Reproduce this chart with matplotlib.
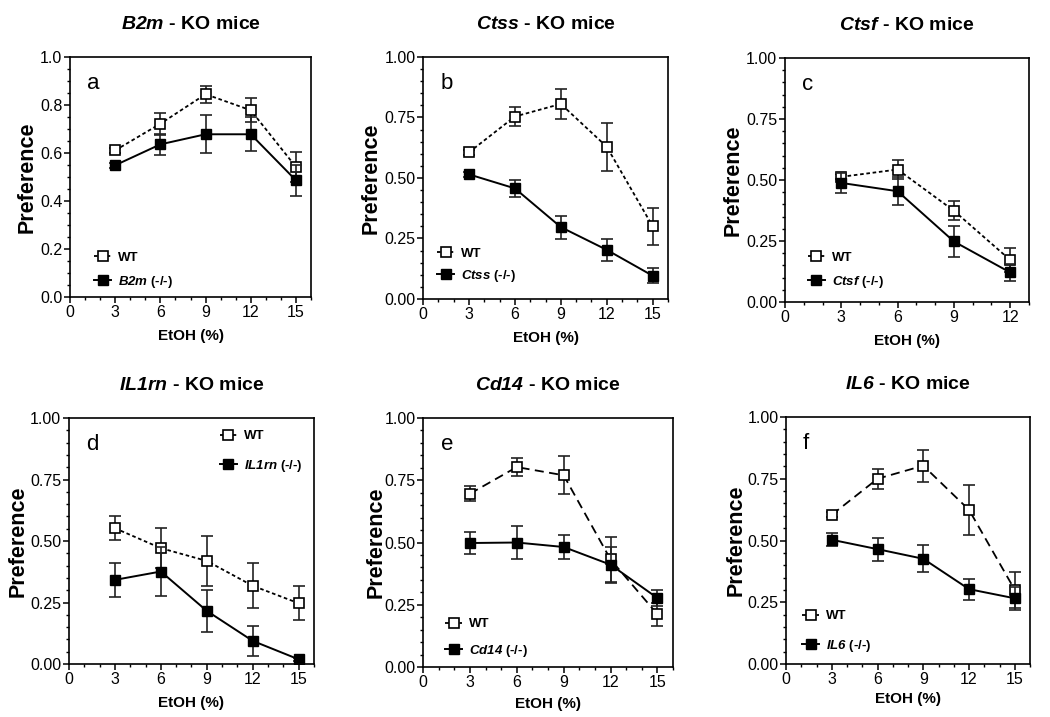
import numpy as np
import matplotlib
matplotlib.use('Agg')
from matplotlib import pyplot as plt
from matplotlib.ticker import MultipleLocator, FormatStrFormatter
from matplotlib.lines import Line2D

plt.rcParams['font.family'] = ['Liberation Sans', 'DejaVu Sans']
# gene names are set in mathtext -> make the roman math font bold italic
plt.rcParams['mathtext.fontset'] = 'custom'
plt.rcParams['mathtext.rm'] = 'Liberation Sans:italic:bold'
plt.rcParams['mathtext.it'] = 'Liberation Sans:italic:bold'

# ---- data ----
etoh = [3, 6, 9, 12, 15]
etoh_c = [3, 6, 9, 12]

genes = ['B2m', 'Ctss', 'Ctsf', 'IL1rn', 'Cd14', 'IL6']
letters = ['a', 'b', 'c', 'd', 'e', 'f']

wt_a = [0.611, 0.722, 0.845, 0.778, 0.542]
wt_a_err = [0.01, 0.045, 0.035, 0.05, 0.062]
ko_a = [0.549, 0.636, 0.678, 0.678, 0.486]
ko_a_err = [0.01, 0.043, 0.08, 0.07, 0.065]

wt_b = [0.606, 0.754, 0.806, 0.629, 0.300]
wt_b_err = [0.01, 0.04, 0.063, 0.10, 0.075]
ko_b = [0.515, 0.457, 0.297, 0.203, 0.096]
ko_b_err = [0.01, 0.035, 0.048, 0.044, 0.03]

wt_c = [0.513, 0.543, 0.374, 0.172]
wt_c_err = [0.01, 0.037, 0.038, 0.05]
ko_c = [0.488, 0.454, 0.248, 0.121]
ko_c_err = [0.04, 0.057, 0.065, 0.035]

wt_d = [0.552, 0.471, 0.419, 0.318, 0.247]
wt_d_err = [0.048, 0.08, 0.10, 0.092, 0.07]
ko_d = [0.342, 0.376, 0.216, 0.094, 0.019]
ko_d_err = [0.07, 0.10, 0.085, 0.06, 0.005]

wt_e = [0.696, 0.803, 0.770, 0.432, 0.212]
wt_e_err = [0.03, 0.035, 0.077, 0.09, 0.046]
ko_e = [0.498, 0.500, 0.482, 0.411, 0.277]
ko_e_err = [0.043, 0.065, 0.05, 0.072, 0.033]

wt_f = [0.604, 0.750, 0.803, 0.624, 0.300]
wt_f_err = [0.01, 0.04, 0.065, 0.10, 0.073]
ko_f = [0.503, 0.465, 0.426, 0.303, 0.266]
ko_f_err = [0.027, 0.047, 0.055, 0.042, 0.047]

panels = [
    (etoh, wt_a, wt_a_err, ko_a, ko_a_err),
    (etoh, wt_b, wt_b_err, ko_b, ko_b_err),
    (etoh_c, wt_c, wt_c_err, ko_c, ko_c_err),
    (etoh, wt_d, wt_d_err, ko_d, ko_d_err),
    (etoh, wt_e, wt_e_err, ko_e, ko_e_err),
    (etoh, wt_f, wt_f_err, ko_f, ko_f_err),
]

# layout / style per panel
boxes = [[0.0667, 0.5858, 0.2295, 0.3347],
         [0.4029, 0.5830, 0.2333, 0.3375],
         [0.7476, 0.5788, 0.2324, 0.3403],
         [0.0657, 0.0739, 0.2333, 0.3431],
         [0.4029, 0.0697, 0.2381, 0.3473],
         [0.7486, 0.0739, 0.2324, 0.3445]]
xmax = [16, 16, 13, 16, 16, 16]
wt_ls = [(0, (2, 1.5))] * 4 + [(0, (5, 3))] * 2
leg_pos = [(0.10, 0.11), (0.057, 0.138), (0.094, 0.129),
           (0.616, 0.862), (0.088, 0.114), (0.066, 0.13)]
leg_space = [0.75, 0.6, 0.75, 1.15, 0.95, 1.15]
ylab_x = [-0.135, -0.171, -0.168, -0.163, -0.144, -0.16]
xlab_pad = [7, 7, 7, 7, 5, 4]

fig = plt.figure(figsize=(10.5, 7.17), dpi=100)

for i in range(6):
    x, wt, wt_err, ko, ko_err = panels[i]
    ax = fig.add_axes(boxes[i])
    ax.errorbar(x, wt, yerr=wt_err, color='black', ls=wt_ls[i], lw=1.3,
                marker='s', ms=7.5, mfc='white', mec='black', mew=1.2,
                ecolor='#222222', elinewidth=1.2, capsize=4, capthick=1.2, zorder=3)
    ax.errorbar(x, ko, yerr=ko_err, color='black', ls='-', lw=1.4,
                marker='s', ms=7.5, mfc='black', mec='black',
                ecolor='#222222', elinewidth=1.2, capsize=4, capthick=1.2, zorder=4)

    ax.set_xlim(0, xmax[i])
    ax.set_ylim(0, 1.0)
    ax.xaxis.set_major_locator(MultipleLocator(3))
    ax.xaxis.set_minor_locator(MultipleLocator(1))
    if i == 0:
        ax.yaxis.set_major_locator(MultipleLocator(0.2))
        ax.yaxis.set_major_formatter(FormatStrFormatter('%.1f'))
    else:
        ax.yaxis.set_major_locator(MultipleLocator(0.25))
        ax.yaxis.set_major_formatter(FormatStrFormatter('%.2f'))
    ax.yaxis.set_minor_locator(MultipleLocator(0.05))
    ax.tick_params(which='major', length=4, width=1.1, labelsize=11.5, pad=1.5)
    ax.tick_params(which='minor', length=2.2, width=1.0)
    for s in ax.spines.values():
        s.set_linewidth(1.2)

    ax.set_title('$\\mathrm{%s}$ - KO mice' % genes[i], fontsize=14, fontweight='bold', pad=20)
    ax.set_ylabel('Preference', fontsize=15.5, fontweight='bold')
    ax.yaxis.set_label_coords(ylab_x[i], 0.5)
    ax.set_xlabel('EtOH (%)', fontsize=11, fontweight='bold', labelpad=xlab_pad[i])
    ax.text(0.07, 0.935, letters[i], transform=ax.transAxes, fontsize=16,
            ha='left', va='top')

    handles = [Line2D([], [], color='black', ls=wt_ls[i], lw=1.3, marker='s', ms=7.5,
                      mfc='white', mec='black', mew=1.2),
               Line2D([], [], color='black', ls='-', lw=1.4, marker='s', ms=7.5,
                      mfc='black', mec='black')]
    labels = ['WT', '$\\mathrm{%s}$ (-/-)' % genes[i]]
    ax.legend(handles, labels, loc='center left', bbox_to_anchor=leg_pos[i],
              frameon=False, borderpad=0, borderaxespad=0, handlelength=1.3,
              handletextpad=0.5, labelspacing=leg_space[i],
              prop={'weight': 'bold', 'size': 9.5})

fig.savefig('out.png', dpi=100)
